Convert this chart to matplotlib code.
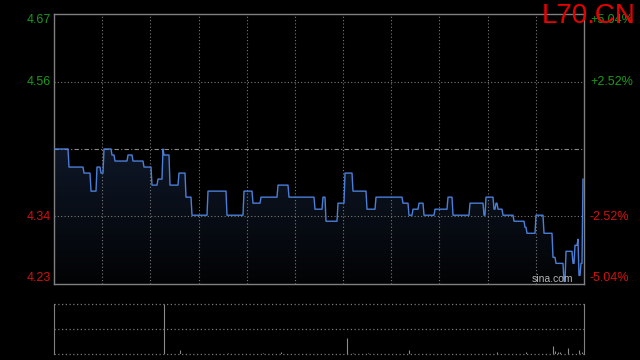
import numpy as np
import matplotlib.pyplot as plt
from matplotlib.colors import LinearSegmentedColormap

# intraday trace of L70.CN (price, minutes)
prev_close = 4.45
seg_price = [4.45, 4.42, 4.41, 4.38, 4.42, 4.41, 4.45, 4.44, 4.43, 4.44,
             4.43, 4.42, 4.39, 4.40, 4.45, 4.44, 4.39, 4.41, 4.37, 4.34,
             4.38, 4.34, 4.38, 4.36, 4.37, 4.39, 4.37, 4.35, 4.37, 4.33,
             4.36, 4.41, 4.38, 4.35, 4.37, 4.36, 4.34, 4.35, 4.36, 4.34,
             4.35, 4.37, 4.34, 4.36, 4.34, 4.37, 4.35, 4.36, 4.35, 4.34,
             4.33, 4.32, 4.31, 4.34, 4.31, 4.27, 4.26, 4.23, 4.28, 4.26,
             4.29, 4.30, 4.24, 4.26, 4.40]
seg_len = [15, 15, 7, 6, 4, 3, 8, 3, 13, 5,
           11, 8, 6, 5, 1, 6, 9, 7, 6, 16,
           19, 17, 9, 8, 17, 11, 26, 8, 3, 12,
           7, 8, 14, 9, 27, 6, 4, 6, 5, 11,
           13, 5, 17, 14, 2, 8, 2, 2, 5, 11,
           11, 2, 9, 8, 9, 3, 8, 2, 7, 2,
           3, 1, 2, 2, 1]

# volume bars (minute index, relative volume; panel top = 100)
vol_idx = [110, 126, 174, 209, 227, 293, 299, 314, 355, 443, 472, 499,
           501, 504, 506, 514, 525, 528]
vol_val = [100, 8, 2, 2, 4, 32, 2, 2, 8, 4, 4, 16,
           6, 4, 4, 12, 8, 5]

n_slots = 530
pct_levels = [0.0504, 0.0252, -0.0252, -0.0504]

price = np.repeat(seg_price, seg_len)
t = np.arange(len(price))
hi = prev_close * (1 + pct_levels[0])
lo = prev_close * (1 + pct_levels[-1])

grid_c = '#7a7a7a'
green = '#1a9a1a'
red = '#d41010'
dots = (0, (1, 2))

fig = plt.figure(figsize=(6.4, 3.6), dpi=100, facecolor='black')
ax = fig.add_axes([54/640, 76/360, 530/640, 270/360])
axv = fig.add_axes([54/640, 6/360, 530/640, 50/360])

# main price panel
ax.set_facecolor('black')
for s in ax.spines.values():
    s.set_color('#808080')
    s.set_linewidth(1)
ax.set_xticks([])
ax.set_yticks([])

for k in range(1, 11):
    ax.axvline(n_slots / 11 * k, color=grid_c, ls=dots, lw=0.8)
for p in pct_levels[1:3]:
    ax.axhline(prev_close * (1 + p), color=grid_c, ls=dots, lw=0.8)
ax.axhline(prev_close, color='#8a8a8a', ls=(0, (4, 2, 1, 2)), lw=0.8)

poly = ax.fill_between(t, price, lo, color='none', lw=0)
cmap = LinearSegmentedColormap.from_list('fill', ['#020304', '#0f1829'])
grad = np.linspace(0, 1, 256).reshape(-1, 1)
img = ax.imshow(grad, cmap=cmap, aspect='auto', origin='lower',
                extent=[0, n_slots, lo, prev_close + 0.01], zorder=1)
img.set_clip_path(poly.get_paths()[0], transform=ax.transData)
ax.set_xlim(0, n_slots)
ax.set_ylim(lo, hi)

ax.plot(t, price, color='#4a7fd8', lw=1.0, zorder=3)

# volume panel
axv.set_facecolor('black')
axv.set_xlim(0, n_slots)
axv.set_ylim(0, 100)
axv.vlines(vol_idx, 0, vol_val, color='#8a8a8a', lw=0.8, zorder=3)
for side in ['top', 'bottom']:
    axv.spines[side].set_visible(False)
for side in ['left', 'right']:
    axv.spines[side].set_color('#808080')
for yv in [0, 50, 100]:
    axv.axhline(yv, color=grid_c, ls=dots, lw=0.9, clip_on=False)
axv.set_xticks([])
axv.set_yticks([])

# axis labels
lab_y = [20, 82, 217, 278]
for p, yp in zip(pct_levels, lab_y):
    c = green if p > 0 else red
    fig.text(51/640, 1 - yp/360, f'{prev_close * (1 + p):.2f}', color=c,
             ha='right', va='center', fontsize=9, family='Liberation Sans')
    fig.text(590/640, 1 - yp/360, f'{p * 100:+.2f}%', color=c,
             ha='left', va='center', fontsize=9, family='Liberation Sans')

fig.text(573/640, 1 - 284/360, 'sina.com', color='#b4b4b4', ha='right',
         va='bottom', fontsize=7.5, family='Liberation Sans')
fig.text(636/640, 1 - 3/360, 'L70.CN', color='#e80000', ha='right',
         va='top', fontsize=20, family='Liberation Sans', zorder=10)

fig.savefig('out.png', dpi=100, facecolor='black')
